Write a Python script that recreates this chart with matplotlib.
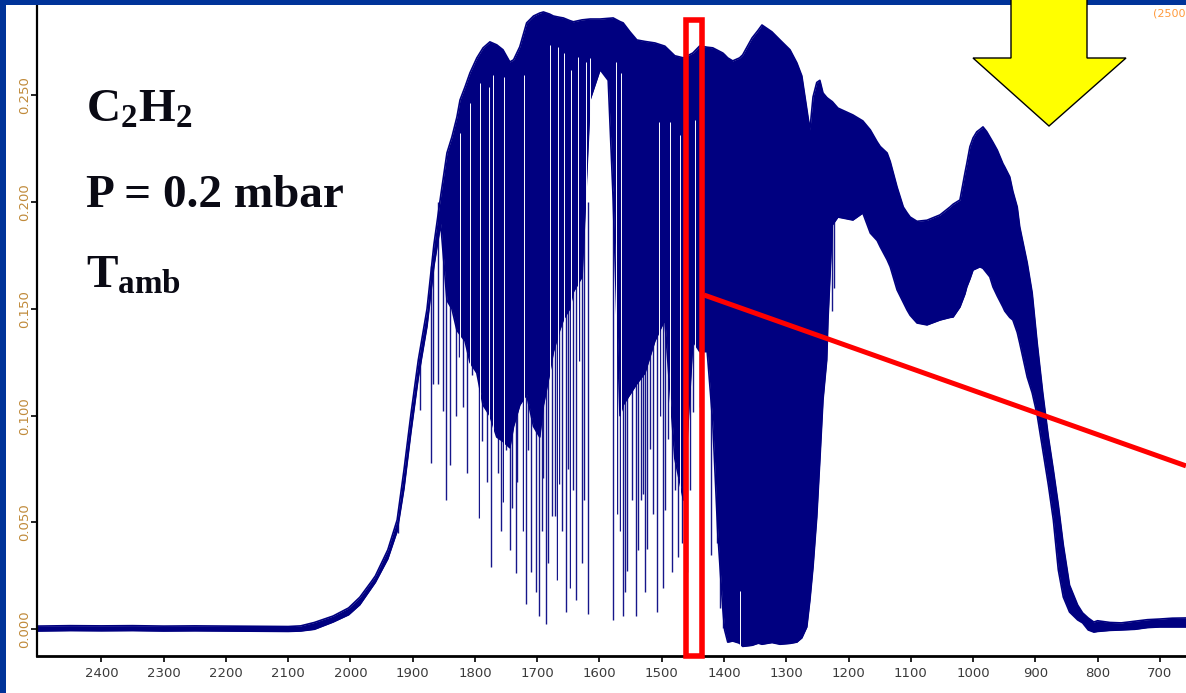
import matplotlib
matplotlib.use('Agg')
import matplotlib.pyplot as plt
from matplotlib.patches import Polygon, Rectangle

# wavenumber grid (cm-1) with upper / lower envelope of the dense spectrum
wn = [2503, 2450, 2400, 2350, 2300, 2250, 2200, 2150, 2100, 2080, 2058, 2028,
      2003, 1985, 1966, 1960, 1940, 1925, 1914, 1903, 1891, 1877, 1866, 1855,
      1845, 1837, 1829, 1824, 1816, 1808, 1797, 1787, 1776, 1765, 1755, 1744,
      1738, 1728, 1717, 1706, 1696, 1690, 1680, 1674, 1664, 1658, 1648, 1642,
      1628, 1615, 1599, 1586, 1578, 1567, 1562, 1551, 1540, 1527, 1511, 1495,
      1479, 1465, 1450, 1439, 1427, 1418, 1410, 1402, 1399, 1394, 1386, 1375,
      1370, 1355, 1345, 1339, 1323, 1310, 1294, 1283, 1275, 1267, 1262, 1257,
      1251, 1246, 1241, 1235, 1233, 1226, 1217, 1193, 1177, 1165, 1154, 1149,
      1138, 1133, 1122, 1112, 1106, 1101, 1090, 1074, 1053, 1037, 1032, 1021,
      1013, 1010, 1005, 1000, 994, 989, 984, 978, 973, 968, 961, 952, 949, 941,
      936, 929, 925, 913, 905, 897, 888, 879, 871, 863, 855, 845, 832, 824, 815,
      806, 800, 780, 762, 740, 720, 700, 680, 658]

top = [0.0015, 0.0017, 0.0016, 0.0017, 0.0015, 0.0016, 0.0015, 0.0014, 0.0013,
       0.0016, 0.0032, 0.0062, 0.0100, 0.0150, 0.0225, 0.0250, 0.0372, 0.0512,
       0.0746, 0.1004, 0.1261, 0.1500, 0.1800, 0.2030, 0.2230, 0.2305, 0.2398,
       0.2478, 0.2539, 0.2605, 0.2675, 0.2722, 0.2750, 0.2736, 0.2713, 0.2656,
       0.2666, 0.2727, 0.2839, 0.2871, 0.2885, 0.2890, 0.2880, 0.2871, 0.2865,
       0.2862, 0.2850, 0.2844, 0.2853, 0.2857, 0.2857, 0.2860, 0.2862, 0.2845,
       0.2839, 0.2797, 0.2759, 0.2752, 0.2745, 0.2730, 0.2685, 0.2675, 0.2698,
       0.2731, 0.2725, 0.2722, 0.2710, 0.2698, 0.2690, 0.2675, 0.2661, 0.2675,
       0.2689, 0.2768, 0.2805, 0.2829, 0.2797, 0.2759, 0.2713, 0.2652, 0.2591,
       0.2436, 0.2338, 0.2492, 0.2560, 0.2570, 0.2511, 0.2490, 0.2485, 0.2470,
       0.2440, 0.2408, 0.2380, 0.2338, 0.2282, 0.2260, 0.2230, 0.2190, 0.2070,
       0.1977, 0.1950, 0.1930, 0.1910, 0.1915, 0.1940, 0.1977, 0.1990, 0.2010,
       0.2136, 0.2180, 0.2259, 0.2300, 0.2329, 0.2340, 0.2352, 0.2330, 0.2305,
       0.2280, 0.2243, 0.2180, 0.2164, 0.2118, 0.2050, 0.1977, 0.1884, 0.1716,
       0.1575, 0.1341, 0.1107, 0.0901, 0.0746, 0.0582, 0.0395, 0.0207, 0.0114,
       0.0077, 0.0053, 0.0034, 0.0040, 0.0032, 0.0030, 0.0038, 0.0045, 0.0048,
       0.0052, 0.0053]

bot = [-0.0008, -0.0006, -0.0007, -0.0006, -0.0008, -0.0007, -0.0008, -0.0009,
       -0.0010, -0.0008, 0.0000, 0.0034, 0.0068, 0.0115, 0.0195, 0.0220, 0.0330,
       0.0460, 0.0660, 0.0920, 0.1180, 0.1420, 0.1700, 0.1900, 0.1540, 0.1500,
       0.1400, 0.1380, 0.1350, 0.1250, 0.1200, 0.1050, 0.1000, 0.0900, 0.0880,
       0.0850, 0.0950, 0.1050, 0.1100, 0.0950, 0.0900, 0.1050, 0.1200, 0.1300,
       0.1400, 0.1450, 0.1500, 0.1580, 0.1650, 0.2480, 0.2620, 0.2570, 0.2010,
       0.1000, 0.1050, 0.1100, 0.1150, 0.1200, 0.1350, 0.1450, 0.0800, 0.0605,
       0.1350, 0.1300, 0.1300, 0.0966, 0.0451, 0.0100, -0.0003, -0.0060, -0.0055,
       -0.0065, -0.0080, -0.0075, -0.0065, -0.0070, -0.0062, -0.0070, -0.0066,
       -0.0060, -0.0040, 0.0011, 0.0137, 0.0292, 0.0526, 0.0793, 0.1074, 0.1261,
       0.1448, 0.1893, 0.1930, 0.1916, 0.1949, 0.1855, 0.1820, 0.1790, 0.1730,
       0.1697, 0.1589, 0.1530, 0.1495, 0.1470, 0.1434, 0.1425, 0.1448, 0.1460,
       0.1462, 0.1509, 0.1570, 0.1603, 0.1640, 0.1682, 0.1690, 0.1697, 0.1690,
       0.1668, 0.1650, 0.1603, 0.1560, 0.1509, 0.1490, 0.1460, 0.1448, 0.1390,
       0.1340, 0.1181, 0.1107, 0.1004, 0.0840, 0.0676, 0.0512, 0.0278, 0.0151,
       0.0081, 0.0044, 0.0030, -0.0003, -0.0013, -0.0010, -0.0005, -0.0003,
       0.0000, 0.0008, 0.0011, 0.0011, 0.0011]

# individual absorption lines (position, start level, lowest value)
linhas_wn = [1924, 1888, 1871, 1867, 1859, 1851, 1846, 1840, 1830, 1826, 1819,
             1813, 1805, 1800, 1794, 1789, 1787, 1781, 1774, 1769, 1763, 1758,
             1755, 1750, 1747, 1744, 1740, 1734, 1733, 1728, 1723, 1718, 1715,
             1710, 1707, 1702, 1697, 1693, 1691, 1686, 1683, 1676, 1671, 1669,
             1665, 1660, 1654, 1651, 1647, 1643, 1638, 1633, 1628, 1625, 1618,
             1578, 1572, 1567, 1562, 1559, 1556, 1548, 1541, 1538, 1533, 1530,
             1527, 1524, 1519, 1514, 1508, 1503, 1498, 1494, 1490, 1484, 1479,
             1474, 1467, 1460, 1455, 1450, 1439, 1427, 1421, 1411, 1407, 1402,
             1226, 1223]
linhas_ini = [0.050, 0.126, 0.170, 0.175, 0.200, 0.200, 0.200, 0.200, 0.200,
              0.200, 0.200, 0.200, 0.200, 0.200, 0.200, 0.200, 0.200, 0.200,
              0.200, 0.200, 0.200, 0.200, 0.200, 0.200, 0.200, 0.200, 0.200,
              0.200, 0.200, 0.200, 0.200, 0.200, 0.200, 0.200, 0.200, 0.200,
              0.200, 0.200, 0.200, 0.200, 0.200, 0.200, 0.200, 0.200, 0.200,
              0.200, 0.200, 0.200, 0.200, 0.200, 0.200, 0.200, 0.200, 0.200,
              0.200, 0.205, 0.200, 0.200, 0.200, 0.200, 0.200, 0.200, 0.200,
              0.200, 0.200, 0.200, 0.200, 0.200, 0.200, 0.200, 0.200, 0.200,
              0.200, 0.200, 0.200, 0.200, 0.200, 0.200, 0.200, 0.200, 0.200,
              0.200, 0.200, 0.200, 0.200, 0.200, 0.200, 0.200, 0.200, 0.200]
linhas_fim = [0.045, 0.1027, 0.0779, 0.1150, 0.1150, 0.1020, 0.0605, 0.0770,
              0.0998, 0.1275, 0.1040, 0.0730, 0.1190, 0.1495, 0.0521, 0.0880,
              0.1771, 0.0690, 0.0292, 0.1176, 0.0732, 0.0460, 0.0596, 0.0840,
              0.1102, 0.0370, 0.0568, 0.0264, 0.0690, 0.1092, 0.0460, 0.0118,
              0.0840, 0.0270, 0.1150, 0.0175, 0.0062, 0.0460, 0.0708, 0.0025,
              0.0310, 0.0530, 0.0530, 0.0230, 0.0680, 0.0460, 0.0081, 0.0750,
              0.0193, 0.0652, 0.0137, 0.1256, 0.0310, 0.0605, 0.0072, 0.0044,
              0.0540, 0.0460, 0.0062, 0.0175, 0.0273, 0.0605, 0.0062, 0.0370,
              0.0605, 0.0633, 0.0175, 0.0376, 0.0844, 0.0540, 0.0081, 0.0998,
              0.0193, 0.0560, 0.0891, 0.0270, 0.0650, 0.0338, 0.0404, 0.0270,
              0.0650, 0.1017, 0.1040, 0.1320, 0.0348, 0.0404, 0.0100, 0.0006,
              0.1490, 0.1600]

# thin white gaps inside the dark band (position, upper end)
gaps_wn = [1824, 1808, 1792, 1778, 1771, 1753, 1721, 1680, 1666, 1657, 1645,
           1635, 1621, 1616, 1574, 1565, 1505, 1487, 1470, 1446, 1374]
gaps_ini = [0.2323, 0.2463, 0.2557, 0.2538, 0.2594, 0.2585, 0.2594, 0.2735,
            0.2726, 0.2698, 0.2619, 0.2680, 0.2656, 0.2675, 0.2656, 0.2604,
            0.2375, 0.2375, 0.2315, 0.2384, 0.0180]

yticks = [0.0, 0.05, 0.10, 0.15, 0.20, 0.25]
xticks = list(range(700, 2500, 100))

W, H = 1186, 693
AZUL = '#000080'


def fx(px):
    return px / W


def fy(py):
    return 1 - py / H


plt.rcParams['mathtext.fontset'] = 'custom'
plt.rcParams['mathtext.rm'] = 'Liberation Serif:bold'
plt.rcParams['mathtext.bf'] = 'Liberation Serif:bold'
plt.rcParams['mathtext.it'] = 'Liberation Serif:bold'

fig = plt.figure(figsize=(W / 100, H / 100), dpi=100)
ax = fig.add_axes([fx(37.3), fy(655.7), 1 - fx(37.3), 655.7 / H])

# absorption lines go under the dark band, so only their lower part shows
ax.vlines(linhas_wn, linhas_fim, linhas_ini, colors='#16168a', lw=1.0,
          zorder=1.9)
ax.fill_between(wn, bot, top, color=AZUL, lw=0, zorder=2)
ax.plot(wn, top, color=AZUL, lw=1.2, zorder=2)
ax.plot(wn, bot, color=AZUL, lw=1.2, zorder=2)
ax.vlines(gaps_wn, -0.01, gaps_ini, colors='white', lw=0.7, zorder=2.5)

ax.set_xlim(2503, 657.9)
ax.set_ylim(-0.01236, 0.2946)
ax.set_xticks(xticks)
ax.set_xticklabels([str(v) for v in xticks])
ax.set_yticks(yticks)
ax.set_yticklabels(['%.3f' % v for v in yticks])
ax.spines['top'].set_visible(False)
ax.spines['right'].set_visible(False)
ax.spines['left'].set_linewidth(1.6)
ax.spines['bottom'].set_linewidth(2.0)
ax.tick_params(axis='x', length=4, width=1.2, pad=4, labelsize=9.5,
               labelcolor='#3a3a3a')
ax.tick_params(axis='y', length=4, width=1.2, pad=0.8, labelsize=9.5,
               labelcolor='#c08a3a', labelrotation=90)
for t in ax.get_yticklabels():
    t.set_va('center')

# red marker box and connecting line
ax.add_patch(Rectangle((1461, -0.0123), -24.9, 0.2976, fill=False,
                       edgecolor='red', lw=4, zorder=5, clip_on=False))
ax.plot([1432.1, 657.9], [0.1565, 0.0765], color='red', lw=3.6, zorder=5,
        clip_on=False, solid_capstyle='butt')

# text labels
fig.text(fx(86), fy(122), r'$\mathbf{C_2H_2}$', fontsize=34, color='#0a0a14',
         va='baseline')
fig.text(fx(86), fy(207), 'P = 0.2 mbar', fontsize=34, color='#0a0a14',
         fontfamily='Liberation Serif', fontweight='bold', va='baseline')
fig.text(fx(86), fy(288), r'$\mathbf{T_{amb}}$', fontsize=34, color='#0a0a14',
         va='baseline')
fig.text(fx(1185), fy(16), '(2500', fontsize=8, color='#ff9a3c',
         va='baseline', ha='right')

# blue frame
fig.add_artist(Rectangle((0, fy(5)), 1, 5 / H, transform=fig.transFigure,
                         color='#003399', lw=0, zorder=3))
fig.add_artist(Rectangle((0, 0), fx(6), 1, transform=fig.transFigure,
                         color='#003399', lw=0, zorder=3))

# yellow arrow
seta = [(1011, -2), (1087, -2), (1087, 58), (1126, 58), (1049, 126),
        (973, 58), (1011, 58)]
fig.add_artist(Polygon([(fx(a), fy(b)) for a, b in seta], closed=True,
                       transform=fig.transFigure, facecolor='#ffff00',
                       edgecolor='black', lw=1, zorder=4))

fig.savefig('out.png', dpi=100)
